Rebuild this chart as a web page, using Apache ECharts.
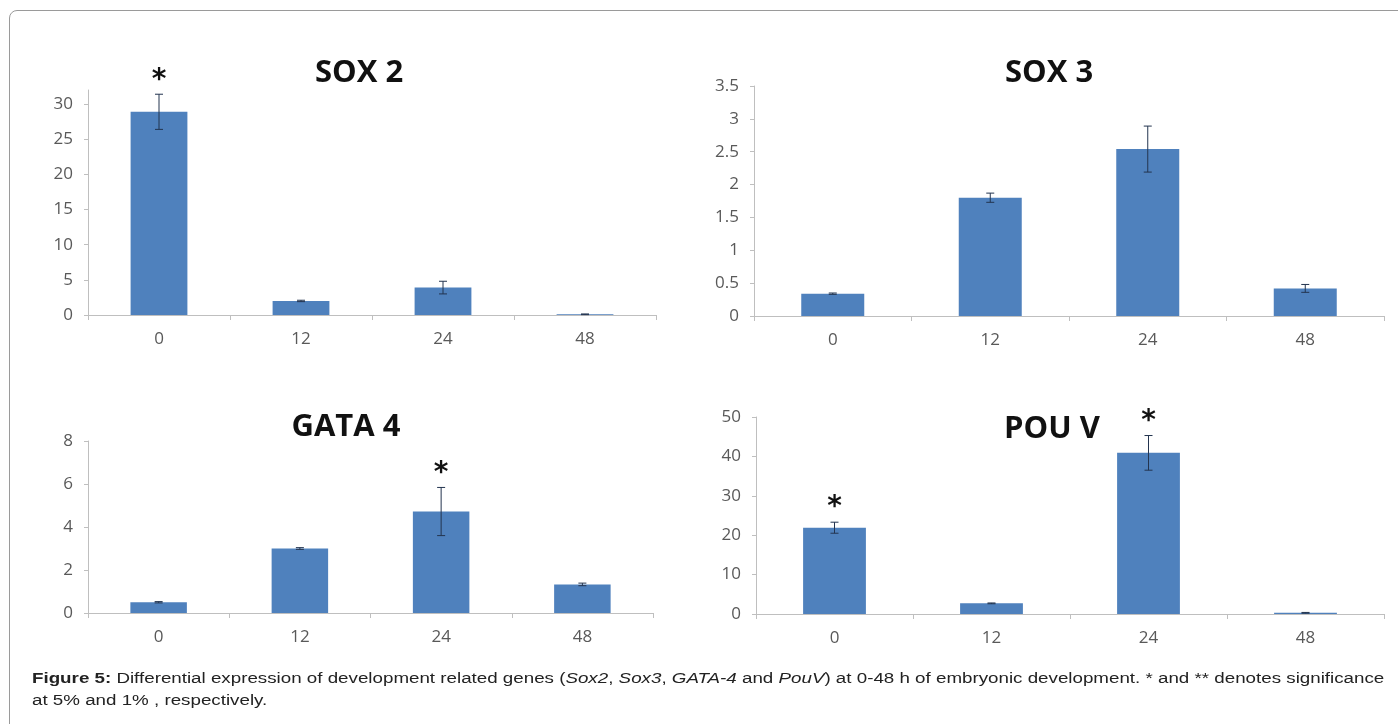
<!DOCTYPE html>
<html>
<head>
<meta charset="utf-8">
<script src="https://cdn.jsdelivr.net/npm/echarts@6/dist/echarts.min.js"></script>
<style>
  html, body { margin:0; padding:0; background:#fff; width:1398px; height:724px; overflow:hidden; }
  #frame { position:absolute; left:9px; top:10px; width:1420px; height:760px; border:1.5px solid #9a9a9a; border-radius:8px; box-sizing:border-box; }
  #chart { position:absolute; left:0; top:0; width:1398px; height:724px; }
  #cap { position:absolute; left:32px; top:667px; font-family:"Liberation Sans", Arial, sans-serif; font-size:15.5px; line-height:22px; color:#222; white-space:nowrap; transform-origin:0 0; transform:scaleX(1.21); }
</style>
</head>
<body>
<div id="frame"></div>
<div id="chart"></div>
<div id="cap"><b>Figure 5:</b> Differential expression of development related genes (<i>Sox2</i>, <i>Sox3</i>, <i>GATA-4</i> and <i>PouV</i>) at 0-48 h of embryonic development. * and ** denotes significance<br>at 5% and 1% , respectively.</div>
<script>
// ---- data ----
const categories = ['0', '12', '24', '48'];

const sox2Values = [28.9, 2.0, 3.9, 0.1];
const sox2Errors = [2.5, 0.1, 0.9, 0.05];
const sox2Stars  = ['*', '', '', ''];
const sox2Ticks  = [0, 5, 10, 15, 20, 25, 30];

const sox3Values = [0.34, 1.80, 2.54, 0.42];
const sox3Errors = [0.01, 0.07, 0.35, 0.06];
const sox3Stars  = ['', '', '', ''];
const sox3Ticks  = [0, 0.5, 1, 1.5, 2, 2.5, 3, 3.5];

const gata4Values = [0.5, 3.0, 4.72, 1.33];
const gata4Errors = [0.03, 0.04, 1.12, 0.06];
const gata4Stars  = ['', '', '*', ''];
const gata4Ticks  = [0, 2, 4, 6, 8];

const pouvValues = [21.9, 2.7, 40.9, 0.3];
const pouvErrors = [1.4, 0.1, 4.4, 0.1];
const pouvStars  = ['*', '', '*', ''];
const pouvTicks  = [0, 10, 20, 30, 40, 50];

const titles = ['SOX 2', 'SOX 3', 'GATA 4', 'POU V'];

// ---- layout / style ----
const BAR = '#4f81bd';
const AXIS = '#bfbfbf';
const LABEL = '#595959';
const TICKFONT = '"Open Sans", Lato, sans-serif';

const panels = [
  { grid: { left: 88,  top: 90,  width: 568, height: 225 }, max: 32,  ticks: sox2Ticks,  values: sox2Values,  errors: sox2Errors,  stars: sox2Stars,  title: { x: 359,  y: 73 } },
  { grid: { left: 754, top: 86,  width: 630, height: 230 }, max: 3.5, ticks: sox3Ticks,  values: sox3Values,  errors: sox3Errors,  stars: sox3Stars,  title: { x: 1049, y: 73 } },
  { grid: { left: 88,  top: 441, width: 565, height: 172 }, max: 8,   ticks: gata4Ticks, values: gata4Values, errors: gata4Errors, stars: gata4Stars, title: { x: 346,  y: 427 } },
  { grid: { left: 756, top: 417, width: 628, height: 197 }, max: 50,  ticks: pouvTicks,  values: pouvValues,  errors: pouvErrors,  stars: pouvStars,  title: { x: 1052, y: 429 } }
];

const grids = [], xAxes = [], yAxes = [], series = [], graphics = [];

panels.forEach((p, k) => {
  grids.push(Object.assign({ containLabel: false }, p.grid));
  xAxes.push({
    type: 'category', gridIndex: k, data: categories, boundaryGap: true,
    axisLine: { lineStyle: { color: AXIS, width: 1 } },
    axisTick: { show: true, length: 5, lineStyle: { color: AXIS } },
    axisLabel: { color: LABEL, fontFamily: TICKFONT, fontSize: 17, margin: 16 }
  });
  yAxes.push({
    type: 'value', gridIndex: k, min: 0, max: p.max,
    splitLine: { show: false },
    axisLine: { show: true, lineStyle: { color: AXIS, width: 1 } },
    axisTick: { show: true, length: 4, lineStyle: { color: AXIS }, customValues: p.ticks },
    axisLabel: { color: LABEL, fontFamily: TICKFONT, fontSize: 17, margin: 15, customValues: p.ticks }
  });
  series.push({
    type: 'bar', xAxisIndex: k, yAxisIndex: k, data: p.values,
    barWidth: '40%', itemStyle: { color: BAR }, silent: true, animation: false
  });
  series.push({
    type: 'custom', xAxisIndex: k, yAxisIndex: k, z: 5, animation: false, silent: true,
    data: p.values.map((v, i) => [i, v - p.errors[i], v + p.errors[i]]),
    renderItem: (params, api) => {
      const x = api.value(0);
      const lo = api.coord([x, api.value(1)]);
      const hi = api.coord([x, api.value(2)]);
      const w = 4;
      const st = { stroke: '#23344f', lineWidth: 1 };
      return { type: 'group', children: [
        { type: 'line', shape: { x1: lo[0], y1: lo[1], x2: hi[0], y2: hi[1] }, style: st },
        { type: 'line', shape: { x1: hi[0] - w, y1: hi[1], x2: hi[0] + w, y2: hi[1] }, style: st },
        { type: 'line', shape: { x1: lo[0] - w, y1: lo[1], x2: lo[0] + w, y2: lo[1] }, style: st }
      ]};
    }
  });
  series.push({
    type: 'custom', xAxisIndex: k, yAxisIndex: k, z: 6, animation: false, silent: true,
    data: p.values.map((v, i) => [i, v + p.errors[i]]),
    renderItem: (params, api) => {
      const s = p.stars[params.dataIndex];
      if (!s) return null;
      const pt = api.coord([api.value(0), api.value(1)]);
      return { type: 'text', x: pt[0], y: pt[1],
        style: { text: s, fontSize: 28, fontWeight: 'bold', fontFamily: '"DejaVu Sans", sans-serif', fill: '#111', align: 'center', verticalAlign: 'bottom' } };
    }
  });
  graphics.push({
    type: 'text', x: p.title.x, y: p.title.y,
    style: { text: titles[k], fontSize: 31, fontWeight: 'bold', fontFamily: '"Open Sans", sans-serif', fill: '#111', align: 'center', verticalAlign: 'middle' }
  });
});

const chart = echarts.init(document.getElementById('chart'), null, { renderer: 'canvas' });
chart.setOption({
  animation: false,
  grid: grids, xAxis: xAxes, yAxis: yAxes, series: series, graphic: graphics
});
</script>
</body>
</html>
